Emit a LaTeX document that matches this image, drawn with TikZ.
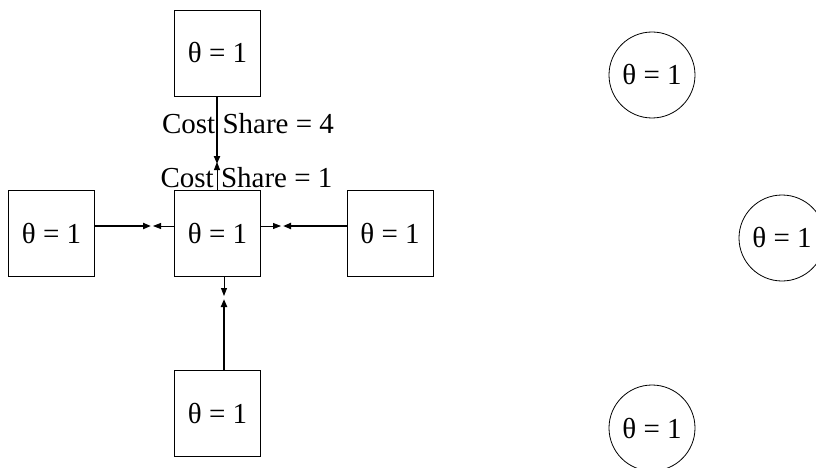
\documentclass[tikz,border=0pt]{standalone}
\usepackage{fontspec}
\setmainfont{Liberation Serif}
\usetikzlibrary{arrows.meta}
\begin{document}
\begin{tikzpicture}[x=1pt,y=-1pt,
  every node/.style={font=\fontsize{29}{34}\selectfont},
  agent/.style={draw, line width=0.8pt, minimum size=86pt, inner sep=0pt},
  peer/.style={draw, circle, line width=0.8pt, minimum size=86pt, inner sep=0pt},
  push/.style={line width=2pt, -{Triangle[length=8pt,width=6pt]}},
  pull/.style={line width=0.8pt, -{Triangle[length=8pt,width=6pt]}}]
\useasboundingbox (0,0) rectangle (816,468);

% square agents
\node[agent] (T) at (217.5,53) {θ = 1};
\node[agent] (C) at (217.5,233.5) {θ = 1};
\node[agent] (L) at (51.5,233.5) {θ = 1};
\node[agent] (R) at (390,233.5) {θ = 1};
\node[agent] (B) at (217.5,413) {θ = 1};

% circular peers
\node[peer] (P1) at (652,75) {θ = 1};
\node[peer] (P2) at (782,238) {θ = 1};
\node[peer] (P3) at (652,428) {θ = 1};

% meeting points of the paired arrows
\coordinate (tT) at (217,164);
\coordinate (tTc) at (217,162);
\coordinate (tL) at (151,226);
\coordinate (tLc) at (153,226);
\coordinate (tR) at (283,226);
\coordinate (tRc) at (281,226);
\coordinate (tB) at (224,299);
\coordinate (tBc) at (224,296);

% connectors
\draw[push] ([xshift=-0.5pt]T.south) -- (tT);
\draw[pull] ([xshift=-0.5pt]C.north) -- (tTc);
\draw[push] ([yshift=7.5pt]L.east) -- (tL);
\draw[pull] ([yshift=7.5pt]C.west) -- (tLc);
\draw[push] ([yshift=7.5pt]R.west) -- (tR);
\draw[pull] ([yshift=7.5pt]C.east) -- (tRc);
\draw[push] ([xshift=6.5pt]B.north) -- (tB);
\draw[pull] ([xshift=6.5pt]C.south) -- (tBc);

% labels
\node[anchor=base] (s4) at (248,133) {Cost Share = 4};
\node[anchor=base] (s1) at (246.5,187) {Cost Share = 1};
\end{tikzpicture}
\end{document}
